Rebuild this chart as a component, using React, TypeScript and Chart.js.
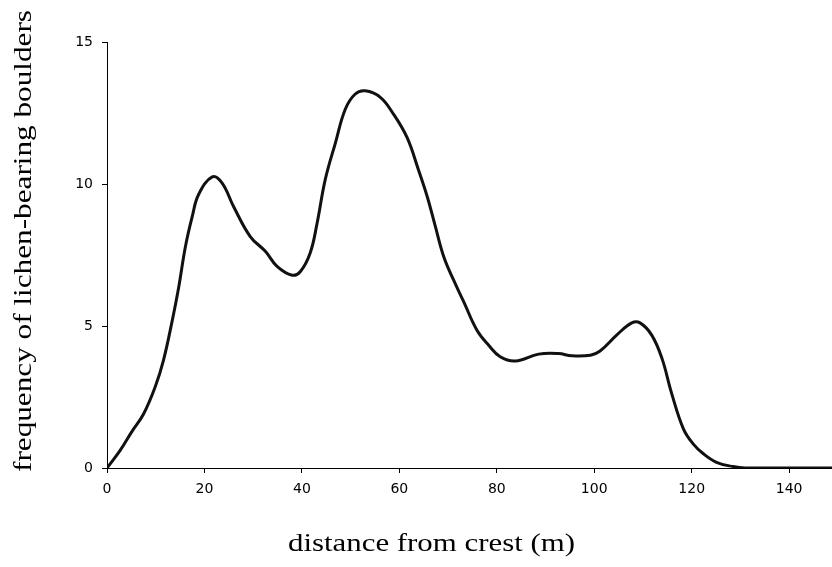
import React, { useEffect, useRef } from "react";
import { Chart, registerables } from "chart.js";

Chart.register(...registerables);

// distance from crest (m)
const distance = [
  0, 2.7, 5.1, 7.5, 9.9, 11.6, 13.4, 14.7, 16.1, 17.5, 18.8, 21.6, 23.6, 26, 29.4,
  32.5, 34.9, 38, 39.7, 41.7, 43.1, 44.8, 46.9, 48.9, 50.9, 53, 56.1, 58.8, 61.6,
  63.9, 65.7, 67.4, 69.1, 71.1, 73.2, 75.9, 78.3, 80.7, 83.8, 88.6, 92.7, 95.4,
  99.2, 101.2, 104.6, 107.7, 109.4, 111.8, 113.9, 115.9, 118.3, 120.3, 122.4,
  125.1, 128.5, 131, 140, 149,
];
// frequency of lichen-bearing boulders
const frequency = [
  0, 0.62, 1.28, 1.9, 2.86, 3.8, 5.2, 6.35, 7.8, 8.86, 9.63, 10.25, 10.04, 9.2,
  8.15, 7.63, 7.1, 6.79, 6.92, 7.57, 8.6, 10.16, 11.46, 12.63, 13.16, 13.28, 13.05,
  12.46, 11.63, 10.51, 9.57, 8.5, 7.45, 6.63, 5.86, 4.86, 4.33, 3.92, 3.77, 4.01,
  4.03, 3.95, 3.97, 4.12, 4.68, 5.11, 5.11, 4.68, 3.86, 2.62, 1.38, 0.85, 0.5, 0.2,
  0.05, 0, 0, 0,
];
const xTicks = [0, 20, 40, 60, 80, 100, 120, 140];
const yTicks = [0, 5, 10, 15];
const xTitle = "distance from crest (m)";
const yTitle = "frequency of lichen-bearing boulders";

const titlePlugin = {
  id: "stretchedTitles",
  afterDraw(chart: any) {
    const ctx = chart.ctx as CanvasRenderingContext2D;
    ctx.save();
    ctx.fillStyle = "#000";
    ctx.font = '25px "Liberation Serif", "Times New Roman", serif';
    ctx.textBaseline = "alphabetic";
    ctx.textAlign = "left";
    // x title
    const wx = ctx.measureText(xTitle).width;
    ctx.save();
    ctx.translate(288, 550.5);
    ctx.scale(287 / wx, 1);
    ctx.fillText(xTitle, 0, 0);
    ctx.restore();
    // y title
    const wy = ctx.measureText(yTitle).width;
    ctx.save();
    ctx.translate(30.5, 472);
    ctx.rotate(-Math.PI / 2);
    ctx.scale(462 / wy, 1);
    ctx.fillText(yTitle, 0, 0);
    ctx.restore();
    ctx.restore();
  },
};

export default function App() {
  const ref = useRef<HTMLCanvasElement | null>(null);

  useEffect(() => {
    if (!ref.current) return;
    const chart = new Chart(ref.current, {
      type: "line",
      data: {
        datasets: [
          {
            data: distance.map((x, i) => ({ x, y: frequency[i] })),
            borderColor: "#111",
            borderWidth: 3,
            pointRadius: 0,
            fill: false,
            tension: 0.4,
            borderCapStyle: "round",
            borderJoinStyle: "round",
          },
        ],
      },
      options: {
        responsive: false,
        animation: false,
        events: [],
        layout: { padding: { top: 42, right: 0, bottom: 0, left: 0 } },
        plugins: {
          legend: { display: false },
          tooltip: { enabled: false },
          title: { display: false },
        },
        scales: {
          x: {
            type: "linear",
            min: 0,
            max: 148.8,
            afterBuildTicks: (s: any) => {
              s.ticks = xTicks.map((v) => ({ value: v }));
            },
            afterFit: (s: any) => {
              s.height = 99;
            },
            grid: {
              display: true,
              drawOnChartArea: false,
              drawTicks: true,
              tickLength: 5,
              color: "#000",
            },
            border: { display: true, color: "#000", width: 1 },
            ticks: {
              color: "#000",
              padding: 8,
              maxRotation: 0,
              font: { family: '"DejaVu Sans", sans-serif', size: 14 },
            },
          },
          y: {
            type: "linear",
            min: 0,
            max: 15,
            afterBuildTicks: (s: any) => {
              s.ticks = yTicks.map((v) => ({ value: v }));
            },
            afterFit: (s: any) => {
              s.width = 107;
            },
            grid: {
              display: true,
              drawOnChartArea: false,
              drawTicks: true,
              tickLength: 5,
              color: "#000",
            },
            border: { display: true, color: "#000", width: 1 },
            ticks: {
              color: "#000",
              padding: 9,
              font: { family: '"DejaVu Sans", sans-serif', size: 14 },
            },
          },
        },
      },
      plugins: [titlePlugin],
    } as any);
    return () => chart.destroy();
  }, []);

  return (
    <div style={{ position: "absolute", left: 0, top: 0, width: 832, height: 567, background: "#fff" }}>
      <canvas ref={ref} width={832} height={567} style={{ display: "block", width: 832, height: 567 }} />
    </div>
  );
}
